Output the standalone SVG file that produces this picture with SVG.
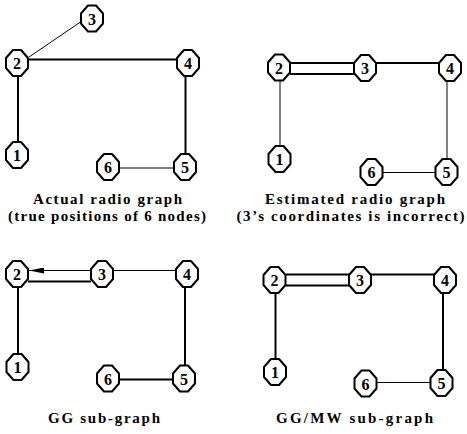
<svg xmlns="http://www.w3.org/2000/svg" width="467" height="434" viewBox="0 0 467 434">
<style>
.oct{fill:#fff;stroke:#000;stroke-width:2;stroke-linejoin:round}
.num{font-family:"Liberation Serif","Times New Roman",serif;font-weight:bold;font-size:16px;text-anchor:middle;fill:#000}
.cap{font-family:"Liberation Serif","Times New Roman",serif;font-weight:bold;font-size:15px;text-anchor:middle;fill:#000}
.thick{stroke:#000;stroke-width:2;fill:none}
.thin{stroke:#000;stroke-width:1;fill:none}
</style>
<defs>
<path id="oct" d="M-4,-13 H4 L11,-5 V5 L4,13 H-4 L-11,5 V-5 Z"/>
<marker id="arr" viewBox="0 0 15 6" refX="15" refY="3" markerWidth="15" markerHeight="6" markerUnits="userSpaceOnUse" orient="auto">
<path d="M0,0 L15,3 L0,6 Z" fill="#000"/>
</marker>
</defs>
<rect width="467" height="434" fill="#fff"/>
<g id="connectors">
<line class="thin" x1="29" y1="57" x2="82" y2="21"/>
<line class="thick" x1="28" y1="59.5" x2="177" y2="59.5"/>
<line class="thick" x1="18" y1="76" x2="18" y2="142"/>
<line class="thick" x1="185.5" y1="76" x2="185.5" y2="154"/>
<line class="thin" x1="119" y1="168" x2="174" y2="168"/>
<line class="thick" x1="290" y1="63" x2="439" y2="63"/>
<line class="thick" x1="290" y1="74" x2="354" y2="74"/>
<line class="thin" x1="280" y1="81" x2="280" y2="146"/>
<line class="thin" x1="447" y1="82" x2="447" y2="159"/>
<line class="thin" x1="383" y1="172.5" x2="435" y2="172.5"/>
<line class="thin" x1="176" y1="270.5" x2="29" y2="270.5" marker-end="url(#arr)"/>
<line class="thick" x1="28" y1="281.5" x2="91" y2="281.5"/>
<line class="thick" x1="18" y1="287" x2="18" y2="354"/>
<line class="thick" x1="185" y1="288" x2="185" y2="365"/>
<line class="thick" x1="119" y1="379.5" x2="173" y2="379.5"/>
<line class="thick" x1="286" y1="274.5" x2="434" y2="274.5"/>
<line class="thick" x1="286" y1="285.5" x2="349" y2="285.5"/>
<line class="thick" x1="275.5" y1="294" x2="275.5" y2="359"/>
<line class="thick" x1="443" y1="294" x2="443" y2="370"/>
<line class="thin" x1="377" y1="382.5" x2="430" y2="382.5"/>
</g>
<g id="a-n1" transform="translate(17,155)"><use href="#oct" class="oct"/><text class="num" y="6">1</text></g>
<g id="a-n2" transform="translate(17,63)"><use href="#oct" class="oct"/><text class="num" y="6">2</text></g>
<g id="a-n3" transform="translate(92,18.5)"><use href="#oct" class="oct"/><text class="num" y="6">3</text></g>
<g id="a-n4" transform="translate(188,63)"><use href="#oct" class="oct"/><text class="num" y="6">4</text></g>
<g id="a-n5" transform="translate(185,167)"><use href="#oct" class="oct"/><text class="num" y="6">5</text></g>
<g id="a-n6" transform="translate(108,167)"><use href="#oct" class="oct"/><text class="num" y="6">6</text></g>
<g id="b-n1" transform="translate(279.5,159)"><use href="#oct" class="oct"/><text class="num" y="6">1</text></g>
<g id="b-n2" transform="translate(279,67.5)"><use href="#oct" class="oct"/><text class="num" y="6">2</text></g>
<g id="b-n3" transform="translate(365,68)"><use href="#oct" class="oct"/><text class="num" y="6">3</text></g>
<g id="b-n4" transform="translate(450,68)"><use href="#oct" class="oct"/><text class="num" y="6">4</text></g>
<g id="b-n5" transform="translate(446.5,172)"><use href="#oct" class="oct"/><text class="num" y="6">5</text></g>
<g id="b-n6" transform="translate(371.5,172)"><use href="#oct" class="oct"/><text class="num" y="6">6</text></g>
<g id="c-n1" transform="translate(17.5,367)"><use href="#oct" class="oct"/><text class="num" y="6">1</text></g>
<g id="c-n2" transform="translate(17,274)"><use href="#oct" class="oct"/><text class="num" y="6">2</text></g>
<g id="c-n3" transform="translate(102,274)"><use href="#oct" class="oct"/><text class="num" y="6">3</text></g>
<g id="c-n4" transform="translate(187,274)"><use href="#oct" class="oct"/><text class="num" y="6">4</text></g>
<g id="c-n5" transform="translate(184,378.5)"><use href="#oct" class="oct"/><text class="num" y="6">5</text></g>
<g id="c-n6" transform="translate(108,378.5)"><use href="#oct" class="oct"/><text class="num" y="6">6</text></g>
<g id="d-n1" transform="translate(275,372)"><use href="#oct" class="oct"/><text class="num" y="6">1</text></g>
<g id="d-n2" transform="translate(274.5,280)"><use href="#oct" class="oct"/><text class="num" y="6">2</text></g>
<g id="d-n3" transform="translate(360,280)"><use href="#oct" class="oct"/><text class="num" y="6">3</text></g>
<g id="d-n4" transform="translate(445,280)"><use href="#oct" class="oct"/><text class="num" y="6">4</text></g>
<g id="d-n5" transform="translate(441.5,383)"><use href="#oct" class="oct"/><text class="num" y="6">5</text></g>
<g id="d-n6" transform="translate(365.5,383.5)"><use href="#oct" class="oct"/><text class="num" y="6">6</text></g>
<g id="captions">
<text class="cap" x="107.5" y="204" textLength="149" lengthAdjust="spacing">Actual radio graph</text>
<text class="cap" x="107" y="221" textLength="198" lengthAdjust="spacing">(true positions of 6 nodes)</text>
<text class="cap" x="355" y="204" textLength="180" lengthAdjust="spacing">Estimated radio graph</text>
<text class="cap" x="350.5" y="221" textLength="228" lengthAdjust="spacing">(3’s coordinates is incorrect)</text>
<text class="cap" x="104" y="423" textLength="112" lengthAdjust="spacing">GG sub-graph</text>
<text class="cap" x="354.5" y="423" textLength="157" lengthAdjust="spacing">GG/MW sub-graph</text>
</g>
</svg>
